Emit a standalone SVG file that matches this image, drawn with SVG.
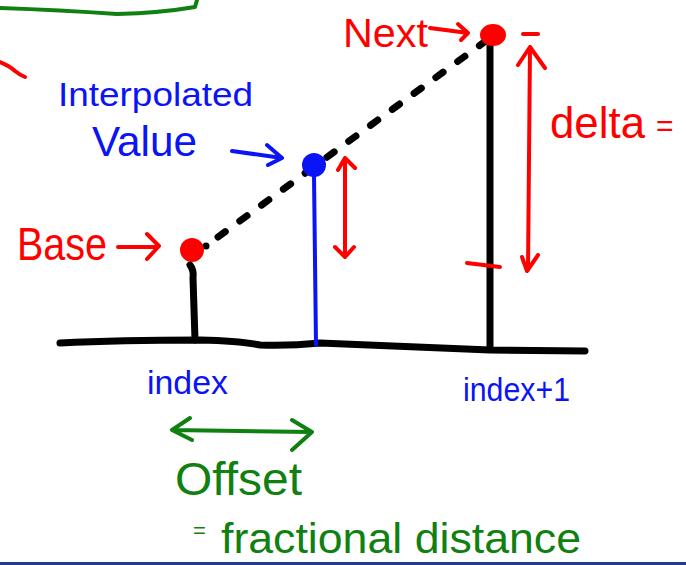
<svg xmlns="http://www.w3.org/2000/svg" width="686" height="565" viewBox="0 0 686 565">
<style>
.k{fill:none;stroke:#000;stroke-width:7;stroke-linecap:round;stroke-linejoin:round}
.r{fill:none;stroke:#f00;stroke-width:4;stroke-linecap:round;stroke-linejoin:round}
.b{fill:none;stroke:#0a14f5;stroke-width:4;stroke-linecap:round;stroke-linejoin:round}
.g{fill:none;stroke:#108010;stroke-width:4;stroke-linecap:round;stroke-linejoin:round}
text{font-family:"Liberation Sans",Arial,sans-serif}
.tr{fill:#f00}.tb{fill:#0a14f5}.tg{fill:#108010}
</style>
<rect width="686" height="565" fill="#fff"/>
<path class="g" d="M0,8 Q60,10 117,14 Q160,13 195,7 L197,0" stroke-width="5"/>
<path class="r" d="M0,62 Q10,66 15,71 Q20,75 25,77"/>
<line x1="0" y1="563.5" x2="686" y2="563.5" stroke="#1f3c8c" stroke-width="3"/>
<g id="connectors">
  <path class="k" d="M60,343 Q120,340 200,340 Q240,341 260,345 Q290,346 320,343 Q420,347 490,350 L585,351"/>
  <path class="k" d="M190,265 Q194,270 193,278 L195,340"/>
  <line class="k" x1="490" y1="44" x2="490" y2="349"/>
  <path class="b" d="M314,175 L316,345"/>
  <path class="k" d="M218,237 L487,40" stroke-dasharray="9 18"/>
  <circle cx="206" cy="246" r="3.5" fill="#000"/>
  <path class="r" d="M345,158 L345,257 M338,170 L345,158 L355,168 M335,247 L345,257 L354,247"/>
  <path class="r" d="M530,47 L528,270 M518,65 L530,47 L545,68 M522,257 L527,271 L538,255"/>
  <path class="r" d="M523,34 L538,34"/>
  <path class="r" d="M467,263 L500,267" stroke-width="5"/>
  <path class="r" d="M118,247 L158,247 M147,234 L159,246 L147,259"/>
  <path class="r" d="M430,28 L468,33 M458,24 L468,33 L461,40"/>
  <path class="b" d="M232,151 L282,158 M267,145 L282,158 L268,165"/>
  <path class="g" d="M172,430 L312,432 M190,418 L172,430 L192,440 M292,420 L312,432 L292,450"/>
</g>
<g id="base-point"><circle cx="192" cy="250" r="12" fill="#f00"/></g>
<g id="interp-point"><circle cx="314" cy="165" r="12" fill="#0a14f5"/></g>
<g id="next-point"><ellipse cx="493" cy="35" rx="13" ry="11" fill="#f00"/></g>
<g id="label-next"><text class="tr" x="343" y="47" font-size="40" textLength="85" lengthAdjust="spacingAndGlyphs">Next</text></g>
<g id="label-interp">
  <text class="tb" x="58" y="106" font-size="33" textLength="195" lengthAdjust="spacingAndGlyphs">Interpolated</text>
  <text class="tb" x="92" y="156" font-size="42" textLength="105" lengthAdjust="spacingAndGlyphs">Value</text>
</g>
<g id="label-base"><text class="tr" x="17" y="260" font-size="46" textLength="90" lengthAdjust="spacingAndGlyphs">Base</text></g>
<g id="label-delta">
  <text class="tr" x="550" y="138" font-size="44" textLength="95" lengthAdjust="spacingAndGlyphs">delta</text>
  <text class="tr" x="656" y="136" font-size="30">=</text>
</g>
<g id="label-index"><text class="tb" x="147" y="394" font-size="34" textLength="81" lengthAdjust="spacingAndGlyphs">index</text></g>
<g id="label-index1"><text class="tb" x="463" y="401" font-size="33" textLength="107" lengthAdjust="spacingAndGlyphs">index+1</text></g>
<g id="label-offset">
  <text class="tg" x="175" y="495" font-size="46" textLength="127" lengthAdjust="spacingAndGlyphs">Offset</text>
  <text class="tg" x="193" y="538" font-size="22">=</text>
  <text class="tg" x="221" y="553" font-size="43" textLength="360" lengthAdjust="spacingAndGlyphs">fractional distance</text>
</g>
</svg>
